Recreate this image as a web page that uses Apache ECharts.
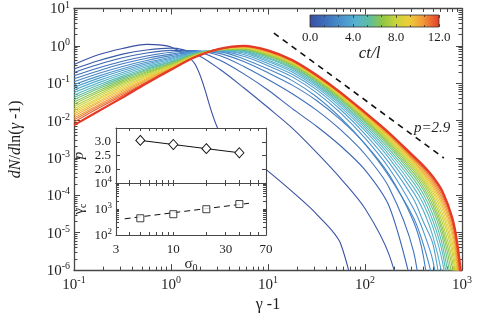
<!DOCTYPE html>
<html><head><meta charset="utf-8">
<script src="https://cdn.jsdelivr.net/npm/echarts@6/dist/echarts.min.js"></script>
<style>html,body{margin:0;padding:0;background:#fff}#c{width:477px;height:318px}</style>
</head><body><div id="c"></div>
<script>
// ---------- data ----------
// sample positions, log10(gamma-1)
const logGamma = [-1,-0.75,-0.5,-0.25,0,0.25,0.5,0.75,1,1.25,1.5,1.75,2,2.25,2.5,2.6,2.7,2.8,2.9,2.95,3];
// ct/l of each curve
const times = [0,0.5,1,1.5,2,2.5,3,3.5,4,4.5,5,5.5,6,6.5,7,7.5,8,8.5,9,9.5,10,10.5,11,11.5,12];
// log10(dN/dln(gamma-1)) per curve
const c00 = [-0.50,-0.24,-0.07,0.04,-0.03,-0.50,-2.30,-2.85,-3.35,-3.90,-4.50,-5.30,-8.00,null,null,null,null,null,null,null,null];
const c01 = [-0.62,-0.40,-0.22,-0.11,-0.06,-0.21,-0.62,-1.12,-1.65,-2.20,-2.85,-3.55,-4.35,-5.60,-8.00,null,null,null,null,null,null];
const c02 = [-0.71,-0.50,-0.32,-0.19,-0.12,-0.14,-0.38,-0.75,-1.18,-1.68,-2.15,-2.68,-3.32,-4.30,-6.60,-8.00,null,null,null,null,null];
const c03 = [-0.80,-0.59,-0.41,-0.27,-0.17,-0.13,-0.26,-0.55,-0.90,-1.28,-1.72,-2.25,-2.90,-3.80,-5.50,-7.50,null,null,null,null,null];
const c04 = [-0.88,-0.67,-0.48,-0.33,-0.22,-0.14,-0.20,-0.42,-0.72,-1.05,-1.46,-1.98,-2.62,-3.45,-4.70,-5.60,-7.50,null,null,null,null];
const c05 = [-0.96,-0.74,-0.55,-0.39,-0.26,-0.15,-0.16,-0.35,-0.62,-0.93,-1.36,-1.93,-2.63,-3.50,-4.60,-5.30,-6.30,-8.00,null,null,null];
const c06 = [-1.04,-0.81,-0.61,-0.44,-0.30,-0.16,-0.14,-0.28,-0.53,-0.83,-1.25,-1.80,-2.47,-3.28,-4.35,-4.95,-5.75,-7.30,null,null,null];
const c07 = [-1.11,-0.87,-0.66,-0.48,-0.33,-0.17,-0.13,-0.23,-0.47,-0.76,-1.17,-1.71,-2.36,-3.13,-4.10,-4.70,-5.30,-6.80,-8.50,null,null];
const c08 = [-1.18,-0.93,-0.71,-0.52,-0.36,-0.18,-0.12,-0.19,-0.42,-0.70,-1.11,-1.64,-2.27,-3.01,-3.92,-4.40,-5.10,-6.20,-8.00,null,null];
const c09 = [-1.25,-0.99,-0.76,-0.56,-0.39,-0.19,-0.12,-0.16,-0.38,-0.65,-1.06,-1.58,-2.20,-2.92,-3.78,-4.22,-4.85,-5.80,-7.50,null,null];
const c10 = [-1.32,-1.05,-0.81,-0.60,-0.42,-0.20,-0.11,-0.14,-0.34,-0.61,-1.02,-1.53,-2.14,-2.84,-3.66,-4.08,-4.68,-5.55,-7.20,null,null];
const c11 = [-1.38,-1.10,-0.85,-0.63,-0.44,-0.21,-0.11,-0.12,-0.31,-0.58,-0.98,-1.49,-2.09,-2.77,-3.56,-3.96,-4.52,-5.35,-6.80,-8.00,null];
const c12 = [-1.44,-1.15,-0.89,-0.66,-0.46,-0.22,-0.10,-0.10,-0.28,-0.55,-0.95,-1.45,-2.04,-2.70,-3.47,-3.85,-4.38,-5.15,-6.50,-7.80,null];
const c13 = [-1.50,-1.20,-0.93,-0.69,-0.48,-0.23,-0.10,-0.09,-0.26,-0.52,-0.92,-1.42,-2.00,-2.65,-3.40,-3.77,-4.27,-5.00,-6.20,-7.50,null];
const c14 = [-1.56,-1.25,-0.97,-0.72,-0.50,-0.24,-0.10,-0.08,-0.24,-0.50,-0.90,-1.39,-1.97,-2.60,-3.33,-3.69,-4.17,-4.88,-5.95,-7.20,null];
const c15 = [-1.62,-1.30,-1.01,-0.75,-0.52,-0.25,-0.10,-0.07,-0.22,-0.48,-0.88,-1.37,-1.94,-2.56,-3.27,-3.62,-4.08,-4.75,-5.75,-6.90,-8.50];
const c16 = [-1.68,-1.35,-1.05,-0.78,-0.54,-0.26,-0.09,-0.06,-0.20,-0.46,-0.86,-1.35,-1.91,-2.52,-3.22,-3.56,-4.00,-4.62,-5.55,-6.60,-8.00];
const c17 = [-1.73,-1.40,-1.09,-0.81,-0.56,-0.26,-0.09,-0.05,-0.19,-0.45,-0.85,-1.33,-1.89,-2.49,-3.18,-3.51,-3.92,-4.50,-5.40,-6.35,-8.00];
const c18 = [-1.78,-1.44,-1.13,-0.84,-0.58,-0.27,-0.09,-0.04,-0.18,-0.44,-0.84,-1.32,-1.87,-2.46,-3.14,-3.46,-3.85,-4.39,-5.25,-6.10,-8.00];
const c19 = [-1.83,-1.49,-1.17,-0.87,-0.59,-0.28,-0.09,-0.03,-0.17,-0.43,-0.83,-1.30,-1.85,-2.43,-3.10,-3.41,-3.78,-4.29,-5.10,-5.95,-7.80];
const c20 = [-1.88,-1.53,-1.21,-0.90,-0.60,-0.28,-0.09,-0.03,-0.16,-0.42,-0.82,-1.29,-1.83,-2.41,-3.07,-3.37,-3.72,-4.20,-4.98,-5.80,-7.60];
const c21 = [-1.93,-1.58,-1.25,-0.93,-0.61,-0.29,-0.08,-0.02,-0.15,-0.41,-0.81,-1.28,-1.82,-2.39,-3.04,-3.32,-3.66,-4.12,-4.86,-5.65,-7.30];
const c22 = [-1.98,-1.62,-1.29,-0.96,-0.62,-0.29,-0.08,-0.01,-0.14,-0.40,-0.80,-1.27,-1.80,-2.37,-3.01,-3.28,-3.60,-4.04,-4.75,-5.50,-7.00];
const c23 = [-2.04,-1.67,-1.33,-0.98,-0.63,-0.30,-0.08,-0.01,-0.13,-0.39,-0.79,-1.26,-1.79,-2.35,-2.98,-3.24,-3.55,-3.97,-4.68,-5.40,-6.70];
const c24 = [-2.12,-1.75,-1.38,-1.00,-0.64,-0.30,-0.08,0.00,-0.12,-0.38,-0.78,-1.25,-1.78,-2.33,-2.95,-3.20,-3.50,-3.90,-4.60,-5.25,-6.30];
const curves = [c00,c01,c02,c03,c04,c05,c06,c07,c08,c09,c10,c11,c12,c13,c14,c15,c16,c17,c18,c19,c20,c21,c22,c23,c24];
// reference power law p=2.9 (gamma-1, dN/dln)
const slopeGamma = [11.5, 650];
const slopeDN = [2.2, 0.001];
// inset
const sigma0 = [5, 10, 20, 40];
const pIndex = [3.05, 2.9, 2.75, 2.6];
const gammaC = [440, 630, 980, 1550];
const fitSigma = [3.6, 49];
const fitGammaC = [420, 1660];
// tick labels
const xTickExp = [-1, 0, 1, 2, 3];
const yTickExp = [-6, -5, -4, -3, -2, -1, 0, 1];
const insetXTicks = [3, 10, 30, 70];
const pTicks = [2.0, 2.5, 3.0];
const gcTickExp = [2, 3, 4];
const cbTicks = [0, 4, 8, 12];

// ---------- style ----------
const SERIF = '"Liberation Serif","Times New Roman",serif';
const AX = '#474747';
const TXT = '#1e1e1e';
const cmap = [[0,'#3a4ea2'],[0.12,'#3d6fba'],[0.25,'#4b94cd'],[0.36,'#58b3cf'],[0.46,'#5fbda0'],[0.56,'#8fc646'],[0.66,'#c6d33b'],[0.76,'#edcf3a'],[0.87,'#f29b38'],[1,'#e53b26']];
function h2r(h){return [parseInt(h.slice(1,3),16),parseInt(h.slice(3,5),16),parseInt(h.slice(5,7),16)];}
function colorAt(f){
  for(let i=1;i<cmap.length;i++){
    if(f<=cmap[i][0]){
      const a=cmap[i-1], b=cmap[i]; const u=(f-a[0])/(b[0]-a[0]);
      const ca=h2r(a[1]), cb=h2r(b[1]);
      return 'rgb('+ca.map((v,j)=>Math.round(v+(cb[j]-v)*u)).join(',')+')';
    }
  }
  return cmap[cmap.length-1][1];
}
function minors(lo,hi){const r=[];for(let n=lo;n<hi;n++)for(let m=2;m<=9;m++)r.push(n+Math.log10(m));return r;}
function expRich(fs){return {b:{fontFamily:SERIF,fontSize:fs,color:TXT,lineHeight:fs+2,verticalAlign:'bottom'},s:{fontFamily:SERIF,fontSize:Math.round(fs*0.68),color:TXT,lineHeight:Math.round(fs*0.68),verticalAlign:'top'}};}
function expFmt(v){return '{b|10}{s|'+Math.round(v)+'}';}
function baseAxis(o){
  const a={type:'value',splitLine:{show:false},
    axisLine:{show:true,onZero:false,lineStyle:{color:AX,width:1.3}},
    axisTick:{show:true,inside:true,length:6,lineStyle:{color:AX,width:1}},
    axisLabel:{show:false}};
  for(const k in o){ if(a[k]&&typeof a[k]==='object'&&!Array.isArray(a[k])&&typeof o[k]==='object') a[k]=Object.assign({},a[k],o[k]); else a[k]=o[k]; }
  return a;
}
const L10 = Math.log10;
const ixMin=L10(3), ixMax=L10(70);
const insetXTickPos=[4,5,6,7,8,9,10,20,30,40,50,60].map(L10);

const xAxes=[], yAxes=[];
// main grid 0
xAxes.push(baseAxis({gridIndex:0,position:'bottom',min:-1,max:3,
  axisTick:{customValues:xTickExp,length:6},
  axisLabel:{show:true,customValues:xTickExp,formatter:expFmt,rich:expRich(15),margin:5},
  name:'γ -1',nameLocation:'middle',nameGap:26,nameTextStyle:{fontFamily:SERIF,fontSize:16,color:TXT}}));
xAxes.push(baseAxis({gridIndex:0,position:'bottom',min:-1,max:3,axisLine:{show:false},axisTick:{customValues:minors(-1,3),length:3.5}}));
xAxes.push(baseAxis({gridIndex:0,position:'top',min:-1,max:3,axisTick:{customValues:xTickExp,length:6}}));
xAxes.push(baseAxis({gridIndex:0,position:'top',min:-1,max:3,axisLine:{show:false},axisTick:{customValues:minors(-1,3),length:3.5}}));
yAxes.push(baseAxis({gridIndex:0,position:'left',min:-6,max:1,
  axisTick:{customValues:yTickExp,length:6},
  axisLabel:{show:true,customValues:yTickExp,formatter:expFmt,rich:expRich(15),margin:4},
  name:'{i|dN}{n|/}{i|d}{n|ln(}{i|γ}{n| -1)}',nameLocation:'middle',nameGap:50,nameRotate:90,
  nameTextStyle:{rich:{i:{fontFamily:SERIF,fontSize:16,fontStyle:'italic',color:TXT},n:{fontFamily:SERIF,fontSize:16,color:TXT}}}}));
yAxes.push(baseAxis({gridIndex:0,position:'left',min:-6,max:1,axisLine:{show:false},axisTick:{customValues:minors(-6,1),length:3.5}}));
yAxes.push(baseAxis({gridIndex:0,position:'right',min:-6,max:1,axisTick:{customValues:yTickExp,length:6}}));
yAxes.push(baseAxis({gridIndex:0,position:'right',min:-6,max:1,axisLine:{show:false},axisTick:{customValues:minors(-6,1),length:3.5}}));
// inset upper grid 1
const iz=11;
xAxes.push(baseAxis({gridIndex:1,position:'bottom',min:ixMin,max:ixMax,z:iz,axisLine:{lineStyle:{color:AX,width:1.1}},axisTick:{customValues:insetXTickPos,length:3}}));
xAxes.push(baseAxis({gridIndex:1,position:'top',min:ixMin,max:ixMax,z:iz,axisLine:{lineStyle:{color:AX,width:1.1}},axisTick:{customValues:insetXTickPos,length:3}}));
yAxes.push(baseAxis({gridIndex:1,position:'left',min:1.5,max:3.5,z:iz,axisLine:{lineStyle:{color:AX,width:1.1}},
  axisTick:{customValues:pTicks,length:4},
  axisLabel:{show:true,customValues:pTicks,formatter:v=>v.toFixed(1),fontFamily:SERIF,fontSize:13,color:TXT,margin:5},
  name:'p',nameLocation:'middle',nameGap:29,nameRotate:90,nameTextStyle:{fontFamily:SERIF,fontSize:15,fontStyle:'italic',color:TXT}}));
yAxes.push(baseAxis({gridIndex:1,position:'right',min:1.5,max:3.5,z:iz,axisLine:{lineStyle:{color:AX,width:1.1}},axisTick:{customValues:pTicks,length:4}}));
// inset lower grid 2
xAxes.push(baseAxis({gridIndex:2,position:'bottom',min:ixMin,max:ixMax,z:iz,axisLine:{lineStyle:{color:AX,width:1.1}},
  axisTick:{customValues:insetXTickPos,length:3},
  axisLabel:{show:true,customValues:insetXTicks.map(L10),formatter:v=>String(Math.round(Math.pow(10,v))),fontFamily:SERIF,fontSize:13,color:TXT,margin:8},
  name:'{s|σ}{z|0}',nameLocation:'middle',nameGap:22,
  nameTextStyle:{rich:{s:{fontFamily:SERIF,fontSize:15,color:TXT,lineHeight:16,verticalAlign:'top'},z:{fontFamily:SERIF,fontSize:10,color:TXT,lineHeight:10,verticalAlign:'bottom',padding:[0,0,0,0]}}}}));
xAxes.push(baseAxis({gridIndex:2,position:'top',min:ixMin,max:ixMax,z:iz,axisLine:{lineStyle:{color:AX,width:1.1}},axisTick:{customValues:insetXTickPos,length:3}}));
const gcTickPos=[3].concat(minors(2,4));
yAxes.push(baseAxis({gridIndex:2,position:'left',min:2,max:4,z:iz,axisLine:{lineStyle:{color:AX,width:1.1}},
  axisTick:{customValues:gcTickPos,length:3},
  axisLabel:{show:true,customValues:gcTickExp,formatter:expFmt,rich:expRich(13),margin:4},
  name:'{g|γ}{c|c}',nameLocation:'middle',nameGap:28,nameRotate:90,
  nameTextStyle:{rich:{g:{fontFamily:SERIF,fontSize:15,color:TXT,lineHeight:16,verticalAlign:'top'},c:{fontFamily:SERIF,fontSize:10,color:TXT,lineHeight:10,verticalAlign:'bottom'}}}}));
yAxes.push(baseAxis({gridIndex:2,position:'right',min:2,max:4,z:iz,axisLine:{lineStyle:{color:AX,width:1.1}},axisTick:{customValues:gcTickPos,length:3}}));
// colorbar grid 3
xAxes.push(baseAxis({gridIndex:3,position:'bottom',min:0,max:12,interval:4,z:6,axisLine:{show:false},
  axisTick:{length:3,lineStyle:{color:'#333',width:0.8}},minorTick:{show:true,splitNumber:3,length:2,lineStyle:{color:'#333',width:0.8}},
  axisLabel:{show:true,customValues:cbTicks,formatter:v=>v.toFixed(1),fontFamily:SERIF,fontSize:13,color:TXT,margin:4},
  name:'ct/l',nameLocation:'middle',nameGap:6,nameTextStyle:{fontFamily:SERIF,fontSize:17,fontStyle:'italic',color:TXT,padding:[0,10,0,0]}}));
xAxes.push(baseAxis({gridIndex:3,position:'top',min:0,max:12,interval:4,z:6,axisLine:{show:false},
  axisTick:{length:3,lineStyle:{color:'#333',width:0.8}},minorTick:{show:true,splitNumber:3,length:2,lineStyle:{color:'#333',width:0.8}}}));
yAxes.push({type:'value',gridIndex:3,min:0,max:1,show:false});

const series=[];
curves.forEach((c,k)=>{
  const data=[]; c.forEach((v,i)=>{ if(v!==null) data.push([logGamma[i],v]); });
  series.push({type:'line',xAxisIndex:0,yAxisIndex:0,data,showSymbol:false,smooth:0.3,
    lineStyle:{color:colorAt(times[k]/12),width:k===curves.length-1?2.2:1.1},z:2,silent:true});
});
series.push({type:'line',xAxisIndex:0,yAxisIndex:0,data:slopeGamma.map((g,i)=>[L10(g),L10(slopeDN[i])]),showSymbol:false,
  lineStyle:{color:'#111',width:1.6,type:[6,5]},z:3,silent:true});
series.push({type:'line',xAxisIndex:4,yAxisIndex:4,data:sigma0.map((s,i)=>[L10(s),pIndex[i]]),symbol:'diamond',symbolSize:[9,10],
  itemStyle:{color:'#fff',borderColor:'#111',borderWidth:1},lineStyle:{color:'#111',width:1},z:12,silent:true});
series.push({type:'line',xAxisIndex:6,yAxisIndex:6,data:fitSigma.map((s,i)=>[L10(s),L10(fitGammaC[i])]),showSymbol:false,
  lineStyle:{color:'#111',width:1,type:[6,4]},z:12,silent:true});
series.push({type:'scatter',xAxisIndex:6,yAxisIndex:6,data:sigma0.map((s,i)=>[L10(s),L10(gammaC[i])]),symbol:'rect',symbolSize:7,
  itemStyle:{color:'#fff',borderColor:'#111',borderWidth:1},z:13,silent:true});
series.push({type:'custom',xAxisIndex:8,yAxisIndex:8,data:[[cbTicks[0],cbTicks[cbTicks.length-1]]],z:3,silent:true,
  renderItem:(params,api)=>{
    const p0=api.coord([api.value(0),0]), p1=api.coord([api.value(1),1]);
    return {type:'rect',shape:{x:p0[0],y:p1[1],width:p1[0]-p0[0],height:p0[1]-p1[1]},
      style:{fill:new echarts.graphic.LinearGradient(0,0,1,0,cmap.map(s=>({offset:s[0],color:s[1]}))),stroke:'#333',lineWidth:0.8}};
  }});

const chart=echarts.init(document.getElementById('c'),null,{renderer:'canvas'});
chart.setOption({
  animation:false,backgroundColor:'#fff',
  grid:[
    {left:65,top:5,width:397,height:271},
    {left:116,top:128,width:150,height:55,show:true,backgroundColor:'#fff',borderWidth:0,z:10},
    {left:116,top:183,width:150,height:52,show:true,backgroundColor:'#fff',borderWidth:0,z:10},
    {left:310,top:15,width:129,height:12}
  ],
  xAxis:xAxes,yAxis:yAxes,series,
  graphic:[{type:'text',left:414,top:121,z:5,style:{text:'p=2.9',font:'italic 15px "Liberation Serif"',fill:TXT}}]
});
</script></body></html>
